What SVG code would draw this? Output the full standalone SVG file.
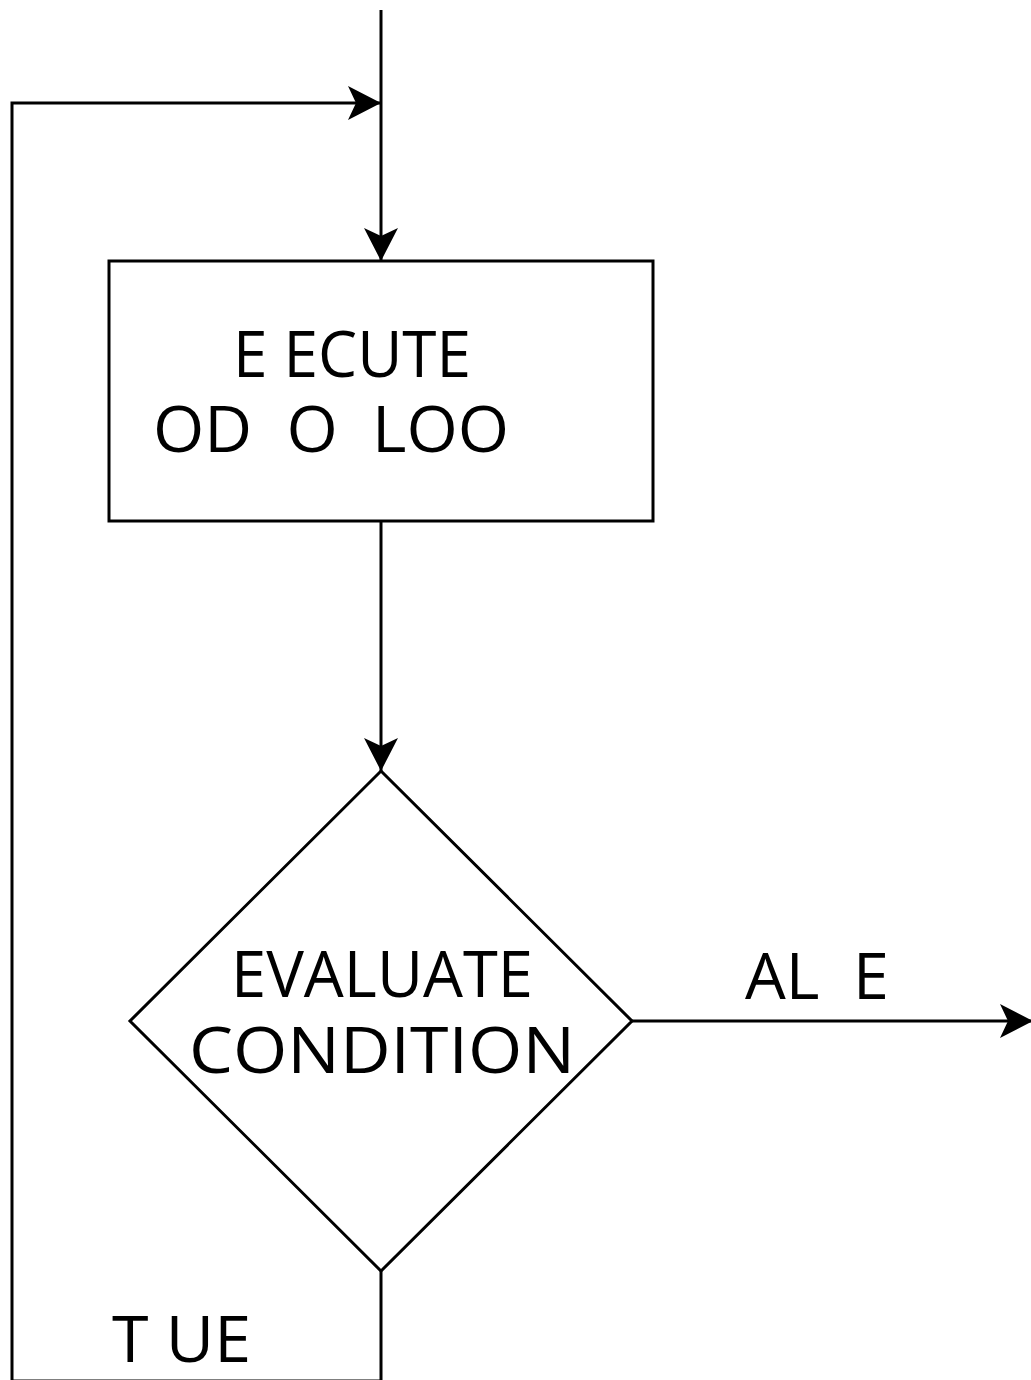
<svg xmlns="http://www.w3.org/2000/svg" width="1031" height="1380" viewBox="0 0 1031 1380">
  <style>
    .line { fill: none; stroke: #000; stroke-width: 3; }
    .shape { fill: #fff; stroke: #000; stroke-width: 3; }
    .label { font-family: "Open Sans", "DejaVu Sans", sans-serif; font-size: 64px; fill: #000; white-space: pre; }
  </style>
  <defs>
    <marker id="arrow" markerUnits="userSpaceOnUse" viewBox="-34 -18 36 36" refX="0" refY="0" markerWidth="36" markerHeight="36" orient="auto">
      <path d="M0,0 L-33,-17 L-25,0 L-33,17 Z" fill="#000"/>
    </marker>
  </defs>
  <rect width="1031" height="1380" fill="#fff"/>

  <g id="connectors">
    <!-- entry into the loop -->
    <line class="line" x1="381" y1="10" x2="381" y2="261" marker-end="url(#arrow)"/>
    <!-- loop body to the test -->
    <line class="line" x1="381" y1="521" x2="381" y2="771" marker-end="url(#arrow)"/>
    <!-- exit branch -->
    <line class="line" x1="632" y1="1021" x2="1033" y2="1021" marker-end="url(#arrow)"/>
    <!-- repeat branch back to the top -->
    <path class="line" d="M381,1271 L381,1381 L12,1381 L12,103 L381,103" marker-end="url(#arrow)"/>
  </g>

  <g id="execute">
    <rect class="shape" x="109" y="261" width="544" height="260"/>
    <text class="label" x="233" y="377" textLength="238" lengthAdjust="spacingAndGlyphs">E ECUTE</text>
    <text class="label" x="153" y="452" textLength="356" lengthAdjust="spacingAndGlyphs">OD  O  LOO</text>
  </g>

  <g id="evaluate">
    <polygon class="shape" points="381,771 632,1021 381,1271 130,1021" stroke-width="2.5"/>
    <text class="label" x="231" y="997" textLength="302" lengthAdjust="spacingAndGlyphs">EVALUATE</text>
    <text class="label" x="189" y="1073" textLength="386" lengthAdjust="spacingAndGlyphs">CONDITION</text>
  </g>

  <g id="false-label">
    <text class="label" x="745" y="999" textLength="144" lengthAdjust="spacingAndGlyphs">AL  E</text>
  </g>

  <g id="true-label">
    <text class="label" x="112" y="1362" textLength="139" lengthAdjust="spacingAndGlyphs">T UE</text>
  </g>
</svg>
